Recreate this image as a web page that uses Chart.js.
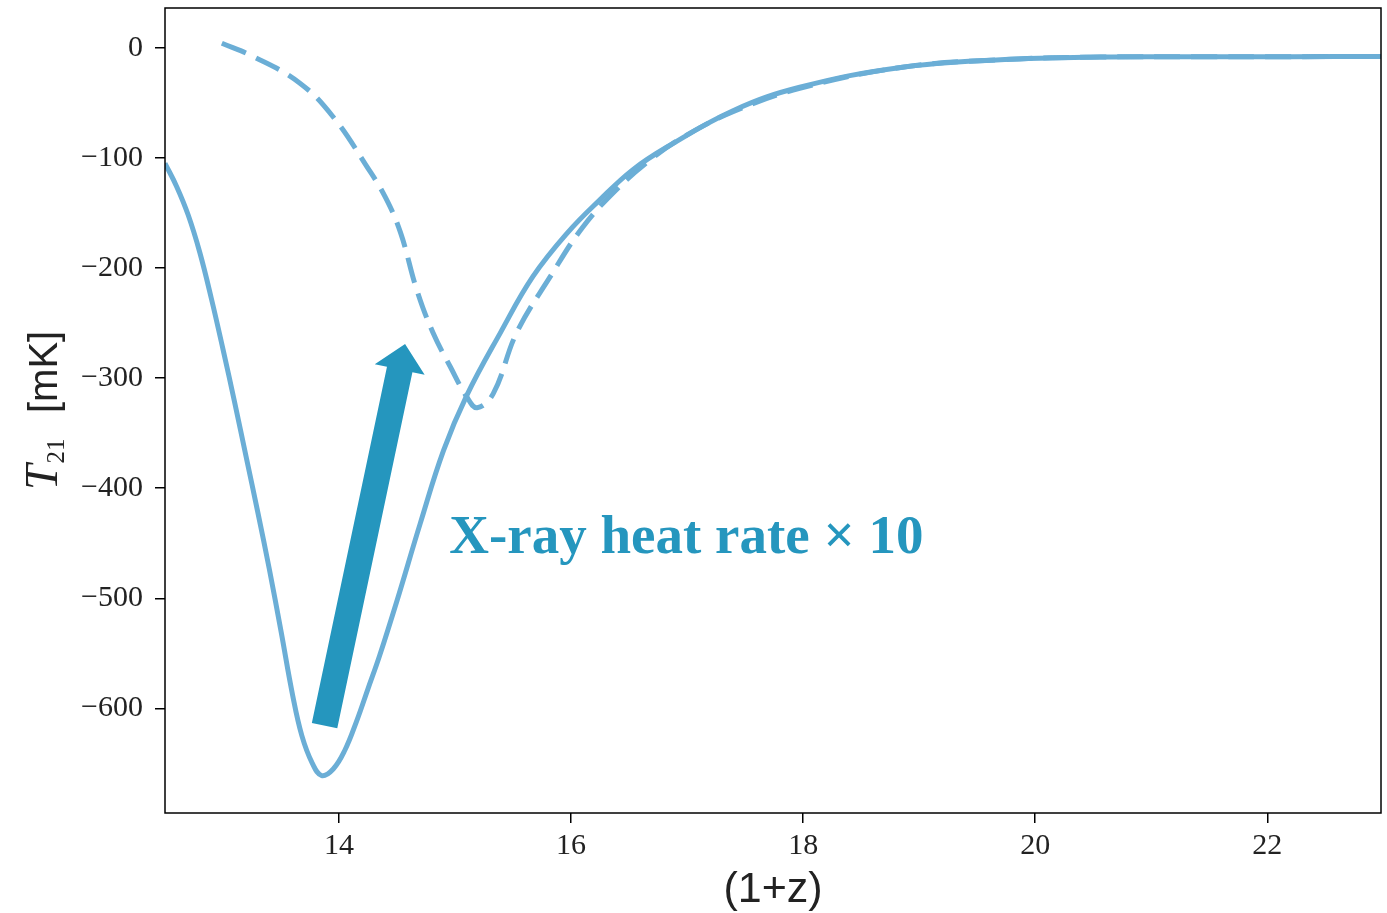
<!DOCTYPE html>
<html><head><meta charset="utf-8">
<script src="https://cdn.jsdelivr.net/npm/chart.js@4/dist/chart.umd.min.js"></script>
<style>html,body{margin:0;padding:0;background:#fff}#wrap{width:1387px;height:913px;position:relative}</style>
</head><body><div id="wrap"><canvas id="c"></canvas></div>
<script>
// ---- data ----
const solidX = [12.5, 12.6, 12.7, 12.8, 12.9, 13.0, 13.1, 13.2, 13.3, 13.4, 13.5, 13.6, 13.68, 13.77, 13.85, 13.95, 14.05, 14.15, 14.25, 14.35, 14.5, 14.7, 14.9, 15.1, 15.39, 15.67, 15.97, 16.25, 16.53, 16.83, 17.4, 17.97, 18.84, 19.7, 20.56, 21.42, 22.2, 23.0];
const solidY = [-105, -126, -152, -186, -228, -274, -322, -372, -422, -474, -530, -588, -625, -650, -661, -655, -638, -612, -582, -552, -502, -432, -366, -316, -259, -208, -168, -138, -111, -90, -57, -36, -18, -11, -8.5, -8.3, -8.2, -8];
const dashX = [12.99, 13.26, 13.66, 13.95, 14.24, 14.40, 14.53, 14.67, 14.81, 14.96, 15.10, 15.19, 15.33, 15.53, 15.82, 16.10, 16.39, 16.68, 16.97, 17.40, 17.97, 18.84, 19.70, 20.56, 21.42, 22.20, 23.00];
const dashY = [4, -8, -32, -63, -108, -136, -168, -220, -259, -290, -317, -327, -314, -259, -208, -163, -129, -102, -81, -58, -37, -18, -11, -8.5, -8.3, -8.2, -8];
const xTicks = [14, 16, 18, 20, 22];
const yTicks = [0, -100, -200, -300, -400, -500, -600];
const xLabel = '(1+z)';
const annotationText = 'X-ray heat rate \u00d7 10';
const annotationPos = {x: 14.95, y: -459};
const arrowTail = {x: 13.875, y: -615.6};
const arrowTip = {x: 14.569, y: -269.2};

const LINE = '#6baed6';
const ACCENT = '#2596be';

function pts(xs, ys){ return xs.map((x,i)=>({x:x, y:ys[i]})); }
function fmt(v){ return v < 0 ? '\u2212' + Math.abs(v) : String(v); }

const deco = {
  id: 'deco',
  afterDatasetsDraw(chart){
    const ctx = chart.ctx, xs = chart.scales.x, ys = chart.scales.y;
    const tx = xs.getPixelForValue(arrowTail.x), ty = ys.getPixelForValue(arrowTail.y);
    const hx = xs.getPixelForValue(arrowTip.x), hy = ys.getPixelForValue(arrowTip.y);
    const L = Math.hypot(hx-tx, hy-ty), ux = (hx-tx)/L, uy = (hy-ty)/L, nx = -uy, ny = ux;
    const sw = 13, hw = 25.5, hl = 26;
    const bx = hx - ux*hl, by = hy - uy*hl;
    ctx.save();
    ctx.fillStyle = ACCENT;
    ctx.beginPath();
    ctx.moveTo(tx + nx*sw, ty + ny*sw);
    ctx.lineTo(bx + nx*sw, by + ny*sw);
    ctx.lineTo(bx + nx*hw, by + ny*hw);
    ctx.lineTo(hx, hy);
    ctx.lineTo(bx - nx*hw, by - ny*hw);
    ctx.lineTo(bx - nx*sw, by - ny*sw);
    ctx.lineTo(tx - nx*sw, ty - ny*sw);
    ctx.closePath();
    ctx.fill();
    ctx.font = 'bold 55px "Liberation Serif"';
    ctx.textBaseline = 'alphabetic';
    ctx.textAlign = 'left';
    ctx.fillText(annotationText, xs.getPixelForValue(annotationPos.x), ys.getPixelForValue(annotationPos.y));
    ctx.restore();
  },
  afterDraw(chart){
    const ctx = chart.ctx, a = chart.chartArea;
    ctx.save();
    ctx.strokeStyle = '#000';
    ctx.lineWidth = 1.5;
    ctx.strokeRect(a.left, a.top, a.right - a.left, a.bottom - a.top);
    ctx.translate(57, 490);
    ctx.rotate(-Math.PI/2);
    ctx.fillStyle = '#222';
    ctx.textBaseline = 'alphabetic';
    ctx.textAlign = 'left';
    ctx.font = 'italic 46px "Liberation Serif"';
    ctx.fillText('T', 0, 0);
    const tw = ctx.measureText('T').width;
    ctx.font = '25px "Liberation Serif"';
    ctx.fillText('21', tw + 1, 7);
    ctx.font = '40px "Liberation Sans"';
    ctx.fillText('[mK]', 77, 0);
    ctx.restore();
  }
};

new Chart(document.getElementById('c'), {
  type: 'line',
  data: {
    datasets: [
      {data: pts(solidX, solidY), borderColor: LINE, borderWidth: 5, pointRadius: 0, tension: 0.4, fill: false},
      {data: pts(dashX, dashY), borderColor: LINE, borderWidth: 5, borderDash: [26, 11], pointRadius: 0, tension: 0.4, fill: false}
    ]
  },
  options: {
    responsive: true, maintainAspectRatio: false, animation: false,
    layout: {padding: {top: 8, right: 6, left: 0, bottom: 0}},
    plugins: {legend: {display: false}, tooltip: {enabled: false}},
    scales: {
      x: {
        type: 'linear', min: 12.5, max: 22.98,
        afterBuildTicks(s){ s.ticks = xTicks.map(v=>({value:v})); },
        afterFit(s){ s.height = 100; s.paddingLeft = 0; s.paddingRight = 0; },
        border: {display: false},
        grid: {display: true, drawOnChartArea: false, drawTicks: true, tickLength: 10, color: '#000', lineWidth: 1.5},
        ticks: {padding: 5, color: '#222', font: {family: 'Liberation Serif', size: 30}, callback: v => fmt(v), maxRotation: 0, autoSkip: false},
        title: {display: true, text: xLabel, color: '#222', font: {family: 'Liberation Sans', size: 43}, padding: {top: 0, bottom: -3}}
      },
      y: {
        type: 'linear', min: -695, max: 36,
        afterBuildTicks(s){ s.ticks = yTicks.map(v=>({value:v})); },
        afterFit(s){ s.width = 165; s.paddingTop = 0; s.paddingBottom = 0; },
        border: {display: false},
        grid: {display: true, drawOnChartArea: false, drawTicks: true, tickLength: 10, color: '#000', lineWidth: 1.5},
        ticks: {padding: 12, color: '#222', font: {family: 'Liberation Serif', size: 30}, callback: v => fmt(v), autoSkip: false}
      }
    }
  },
  plugins: [deco]
});
</script></body></html>
